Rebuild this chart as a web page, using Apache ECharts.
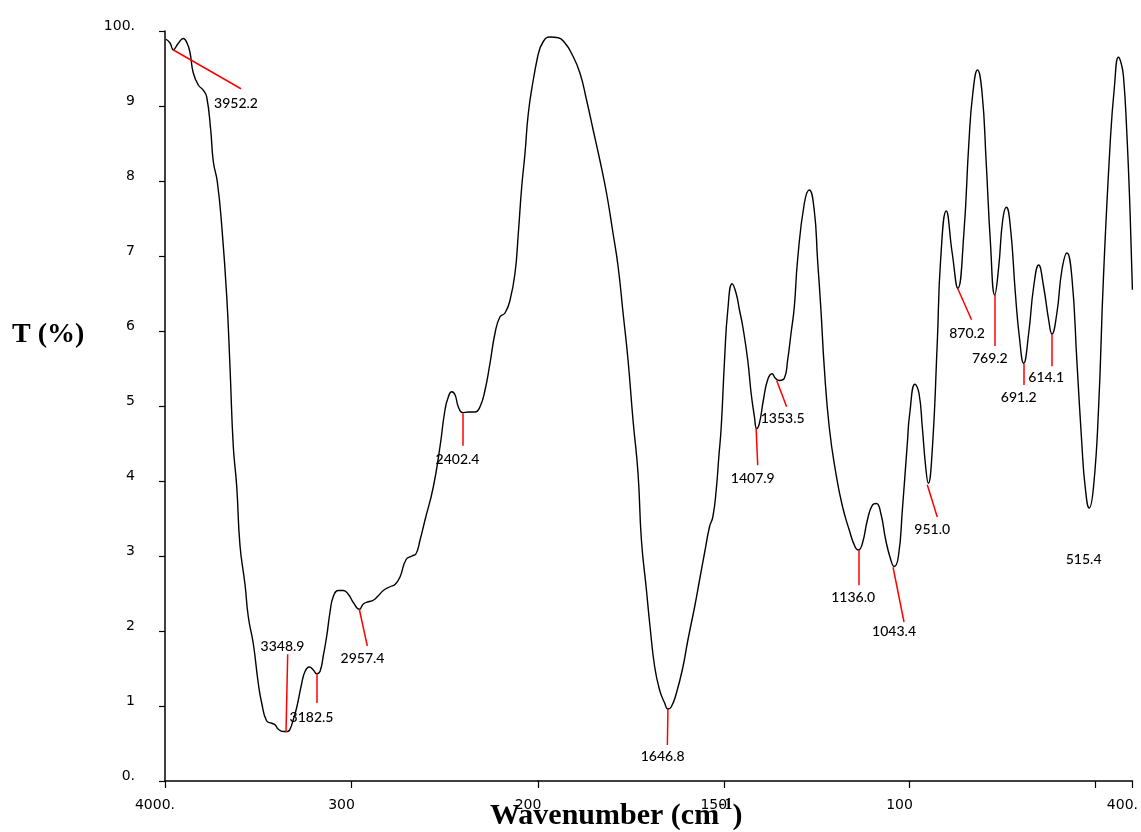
<!DOCTYPE html>
<html>
<head>
<meta charset="utf-8">
<script src="https://cdn.jsdelivr.net/npm/echarts@6.0.0/dist/echarts.min.js"></script>
<style>
html,body{margin:0;padding:0;background:#fff;}
#chart{width:1141px;height:832px;}
</style>
</head>
<body>
<div id="chart"></div>
<script>
// ---- Spectrum data (wavenumber in cm-1, transmittance) ----
const wavenumbers = [
 3994.6, 3973.2, 3955.5, 3930.3, 3901.9, 3882.0, 3865.9, 3848.3, 3821.4, 3794.6,
 3776.4, 3754.9, 3741.0, 3719.6, 3696.0, 3669.2, 3651.5, 3633.8, 3615.5, 3597.9,
 3571.0, 3553.4, 3526.5, 3499.7, 3481.5, 3454.7, 3427.9, 3410.2, 3392.5, 3365.7,
 3342.1, 3329.8, 3312.1, 3293.8, 3267.0, 3249.3, 3226.3, 3204.8, 3186.6, 3168.9,
 3151.2, 3133.0, 3115.3, 3097.6, 3070.8, 3043.9, 3017.1, 2990.3, 2958.1, 2936.7,
 2909.9, 2883.1, 2856.3, 2829.5, 2793.5, 2766.7, 2739.9, 2707.8, 2675.6, 2654.1,
 2632.7, 2605.8, 2561.4, 2525.4, 2498.6, 2480.9, 2462.7, 2445.0, 2427.3, 2403.7,
 2373.7, 2337.8, 2310.9, 2284.2, 2257.4, 2230.5, 2203.7, 2176.9, 2150.1, 2123.3,
 2105.6, 2087.4, 2069.7, 2052.0, 2025.2, 2000.0,
 1985.8, 1967.8, 1945.5, 1927.5, 1909.5, 1887.2, 1869.3, 1851.5, 1833.6, 1815.6,
 1797.9, 1784.4, 1771.0, 1757.6, 1744.2, 1730.7, 1721.6, 1708.2, 1699.3, 1685.9,
 1672.5, 1659.1, 1650.2, 1641.1, 1627.6, 1609.9, 1596.5, 1578.5, 1565.1, 1551.7,
 1538.3, 1529.4, 1520.3, 1513.3, 1506.8, 1497.9, 1489.1, 1477.3, 1466.6, 1457.7,
 1448.8, 1435.4, 1426.3, 1417.5, 1411.3, 1404.0, 1393.3, 1381.8, 1370.0, 1361.1,
 1350.3, 1336.9, 1328.1, 1318.9, 1310.1, 1301.2, 1283.2, 1269.8, 1256.4, 1247.5,
 1238.4, 1229.5, 1216.1, 1198.1, 1180.4, 1162.4, 1146.3, 1137.4, 1126.7, 1113.3,
 1099.8, 1089.1, 1077.3, 1063.9, 1050.4, 1041.6, 1030.0, 1019.3, 1005.9, 999.4,
 985.2, 974.5, 965.6, 956.5, 949.5, 938.8, 925.3, 916.2, 901.2, 885.1,
 869.8, 853.7, 840.3, 829.6, 817.0, 804.6, 793.9, 782.1, 770.6, 759.8,
 749.1, 739.2, 728.5, 715.0, 704.3, 692.7, 679.2, 665.8, 652.4, 639.0,
 625.5, 616.7, 603.3, 589.9, 576.4, 563.0, 549.6, 536.2, 527.1, 516.3,
 504.7, 491.3, 477.9, 459.9, 448.4, 437.6, 430.9, 424.2, 415.4, 406.2, 400.0
];
const transmittance = [
 9.89, 9.84, 9.75, 9.83, 9.90, 9.84, 9.71, 9.44, 9.28, 9.21,
 9.12, 8.68, 8.26, 7.99, 7.41, 6.47, 5.52, 4.46, 3.93, 3.14,
 2.62, 2.19, 1.83, 1.30, 1.04, 0.80, 0.77, 0.75, 0.69, 0.66,
 0.66, 0.69, 0.82, 0.98, 1.30, 1.46, 1.52, 1.48, 1.43, 1.46,
 1.67, 1.93, 2.25, 2.46, 2.54, 2.54, 2.49, 2.38, 2.29, 2.36,
 2.39, 2.41, 2.47, 2.54, 2.59, 2.62, 2.72, 2.95, 3.00, 3.03,
 3.21, 3.48, 3.92, 4.46, 4.95, 5.12, 5.19, 5.15, 4.99, 4.91,
 4.92, 4.92, 4.99, 5.21, 5.57, 5.97, 6.19, 6.24, 6.41, 6.77,
 7.30, 7.92, 8.37, 8.90, 9.35, 9.68,
 9.86, 9.92, 9.91, 9.84, 9.70, 9.44, 9.08, 8.68, 8.28, 7.84,
 7.30, 6.86, 6.24, 5.61, 4.81, 4.10, 3.21, 2.55, 2.10, 1.52,
 1.21, 1.04, 0.96, 0.99, 1.17, 1.52, 1.88, 2.32, 2.68, 3.04,
 3.39, 3.52, 3.88, 4.32, 4.72, 5.61, 6.28, 6.63, 6.50, 6.28,
 6.06, 5.61, 5.17, 4.86, 4.70, 4.77, 5.08, 5.35, 5.43, 5.37,
 5.34, 5.37, 5.61, 5.97, 6.32, 6.95, 7.70, 7.88, 7.61, 6.95,
 6.28, 5.52, 4.72, 4.10, 3.66, 3.35, 3.12, 3.08, 3.17, 3.48,
 3.68, 3.70, 3.57, 3.21, 2.95, 2.86, 2.99, 3.61, 4.50, 4.90,
 5.29, 5.17, 4.72, 4.19, 3.97, 4.41, 5.84, 6.95, 7.60, 7.04,
 6.57, 7.30, 8.50, 9.17, 9.48, 9.17, 8.28, 7.17, 6.48, 6.86,
 7.48, 7.65, 7.39, 6.50, 5.92, 5.57, 5.97, 6.59, 6.88, 6.59,
 6.15, 5.96, 6.24, 6.81, 7.04, 6.72, 5.61, 4.50, 3.92, 3.64,
 3.92, 4.95, 6.72, 8.50, 9.26, 9.65, 9.58, 9.40, 8.68, 7.57, 6.55
];

// ---- Axis ticks ----
const breakWavenumber = 2000;
const upperTickValues = [4000, 3000, 2000];
const upperTickLabels = ['4000.', '300', '200'];
const lowerTickValues = [1500, 1000, 500, 400];
const lowerLabelValues = [1500, 1000, 400];
const lowerTickLabels = ['150', '100', '400.'];
const yTickValues = [0, 1, 2, 3, 4, 5, 6, 7, 8, 9, 10];
const yTickLabels = ['0.', '1', '2', '3', '4', '5', '6', '7', '8', '9', '100.'];

// ---- Peak annotations ----
const peakLabels = ['3952.2','3348.9','3182.5','2957.4','2402.4','1646.8','1407.9','1353.5',
                    '1136.0','1043.4','951.0','870.2','769.2','691.2','614.1','515.4'];
const peakLineFrom = [[3957.1,9.75],[3351.2,0.65],[3186.6,1.43],[2958.1,2.29],[2403.7,4.90],
                      [1650.2,0.96],[1412.9,4.70],[1357.6,5.34],[1137.4,3.08],[1044.3,2.85],
                      [952.2,3.95],[869.8,6.56],[770.5,6.48],[692.6,5.56],[616.7,5.96],null];
const peakLineTo   = [[3592.5,9.23],[3342.1,1.69],[3186.6,1.04],[2915.3,1.80],[2403.7,4.47],
                      [1651.8,0.48],[1408.6,4.21],[1330.8,4.99],[1137.4,2.61],[1014.8,2.12],
                      [925.3,3.52],[833.0,6.15],[770.5,5.80],[692.6,5.28],[616.7,5.53],null];
const peakLabelAt  = [[3619.3,9.04],[3369.9,1.80],[3214.5,0.85],[2941.0,1.63],[2431.6,4.29],
                      [1664.4,0.33],[1422.0,4.03],[1341.5,4.83],[1151.7,2.45],[1041.6,1.99],
                      [938.8,3.35],[845.1,5.97],[783.9,5.63],[706.0,5.11],[632.2,5.38],[531.3,2.96]];

// ---- Build series data ----
const upperData = [], lowerData = [];
wavenumbers.forEach((w, i) => {
  if (w >= breakWavenumber) upperData.push([w, transmittance[i]]);
  if (w <= breakWavenumber) lowerData.push([w, transmittance[i]]);
});
const upperLines = [], lowerLines = [], upperLabels = [], lowerLabels = [];
peakLabels.forEach((name, i) => {
  const upper = peakLabelAt[i][0] >= breakWavenumber;
  if (peakLineFrom[i]) {
    (upper ? upperLines : lowerLines).push([{coord: peakLineFrom[i]}, {coord: peakLineTo[i]}]);
  }
  (upper ? upperLabels : lowerLabels).push({name: name, value: peakLabelAt[i]});
});

const axisColor = '#000';
const tickFont = {fontFamily: 'DejaVu Sans', fontSize: 14, color: '#000'};

const markLineCfg = (data) => ({
  silent: true, symbol: ['none', 'none'],
  lineStyle: {color: '#ff0000', width: 1.5, type: 'solid'},
  label: {show: false}, emphasis: {disabled: true}, animation: false,
  data: data
});
const labelSeries = (idx, data) => ({
  type: 'scatter', xAxisIndex: idx, yAxisIndex: idx, data: data,
  symbol: 'circle', symbolSize: 2, itemStyle: {color: 'rgba(0,0,0,0)'}, silent: true,
  label: {show: true, position: 'inside', formatter: '{b}', opacity: 1,
          fontFamily: 'Lato', fontSize: 14, fontWeight: 500, color: '#000',
          textBorderWidth: 0}
});

const option = {
  backgroundColor: '#fff',
  animation: false,
  grid: [
    {left: 165, top: 31, width: 373, height: 750, containLabel: false},
    {left: 538, top: 31, width: 596, height: 750, containLabel: false}
  ],
  xAxis: [
    {gridIndex: 0, type: 'value', min: 2000, max: 4000, inverse: true,
     axisLine: {lineStyle: {color: axisColor, width: 1.5}},
     axisTick: {show: true, length: 7, customValues: upperTickValues, lineStyle: {color: axisColor, width: 1.2}},
     axisLabel: Object.assign({customValues: upperTickValues, margin: 17, padding: [0, 20, 0, 0],
       formatter: v => upperTickLabels[upperTickValues.indexOf(v)]}, tickFont),
     splitLine: {show: false}},
    {gridIndex: 1, type: 'value', min: 400, max: 2000, inverse: true,
     axisLine: {lineStyle: {color: axisColor, width: 1.5}},
     axisTick: {show: true, length: 7, customValues: lowerTickValues, lineStyle: {color: axisColor, width: 1.2}},
     axisLabel: Object.assign({customValues: lowerLabelValues, margin: 17, padding: [0, 20, 0, 0],
       formatter: v => lowerTickLabels[lowerLabelValues.indexOf(v)]}, tickFont),
     splitLine: {show: false}}
  ],
  yAxis: [
    {gridIndex: 0, type: 'value', min: 0, max: 10, interval: 1,
     axisLine: {show: true, lineStyle: {color: axisColor, width: 1.5}},
     axisTick: {show: true, length: 6, lineStyle: {color: axisColor, width: 1.2}},
     axisLabel: Object.assign({margin: 30, verticalAlign: 'bottom', lineHeight: 10,
       formatter: v => yTickLabels[yTickValues.indexOf(v)]}, tickFont),
     splitLine: {show: false}},
    {gridIndex: 1, type: 'value', min: 0, max: 10, interval: 1, show: false, splitLine: {show: false}}
  ],
  series: [
    {type: 'line', xAxisIndex: 0, yAxisIndex: 0, data: upperData, showSymbol: false,
     smooth: 0.5, lineStyle: {color: '#000', width: 1.4}, silent: true,
     markLine: markLineCfg(upperLines)},
    {type: 'line', xAxisIndex: 1, yAxisIndex: 1, data: lowerData, showSymbol: false,
     smooth: 0.5, lineStyle: {color: '#000', width: 1.4}, silent: true,
     markLine: markLineCfg(lowerLines)},
    labelSeries(0, upperLabels),
    labelSeries(1, lowerLabels)
  ],
  graphic: [
    {type: 'text', left: 12, top: 321,
     style: {text: 'T (%)', font: 'bold 28px "Liberation Serif", "Times New Roman", serif', fill: '#000'}},
    {type: 'text', left: 490, top: 797,
     style: {text: '{a|Wavenumber (cm}{s|-1}{a|)}', fill: '#000',
       rich: {
         a: {fontFamily: '"Liberation Serif", serif', fontWeight: 'bold', fontSize: 30, lineHeight: 34, verticalAlign: 'bottom'},
         s: {fontFamily: '"Liberation Serif", serif', fontWeight: 'bold', fontSize: 16, lineHeight: 34, verticalAlign: 'top'}
       }}}
  ]
};

const chart = echarts.init(document.getElementById('chart'), null, {renderer: 'canvas'});
chart.setOption(option);
</script>
</body>
</html>
